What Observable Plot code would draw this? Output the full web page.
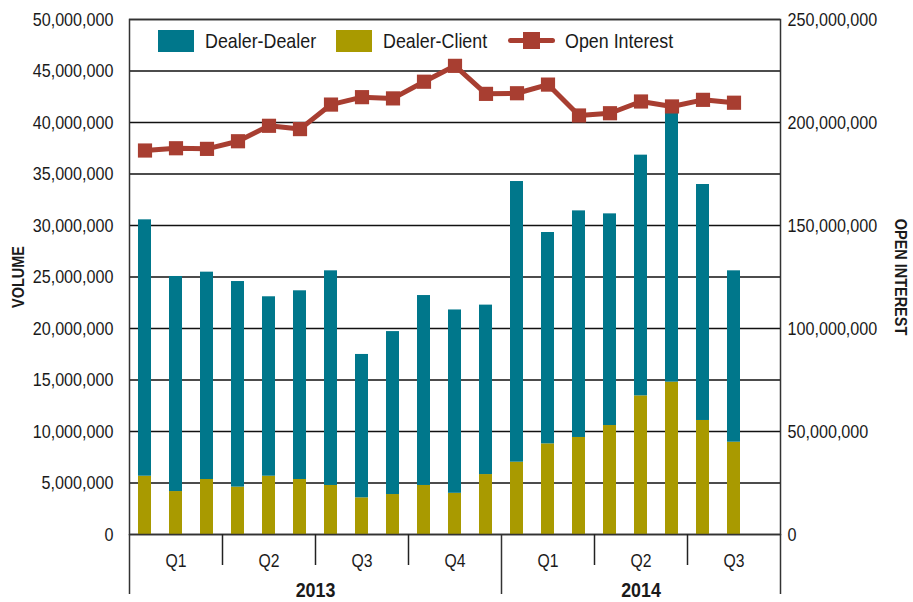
<!DOCTYPE html>
<html><head><meta charset="utf-8">
<script src="https://cdn.jsdelivr.net/npm/d3@7"></script>
<script src="https://cdn.jsdelivr.net/npm/@observablehq/plot@0.6"></script>
<style>
body{margin:0;background:#fff;}
#wrap{position:relative;width:913px;height:602px;font-family:"Liberation Sans",Arial,sans-serif;color:#1a1a1a;}
.sw{position:absolute;top:30px;width:36px;height:22px;}
.lt{position:absolute;top:28px;font-size:21px;line-height:26px;white-space:nowrap;transform:scaleX(0.85);transform-origin:0 50%;}
.ln{position:absolute;top:38px;width:47px;height:5px;border-radius:3px;}
.ln .sq{position:absolute;left:15px;top:-6px;width:17px;height:17px;}
</style></head>
<body><div id="wrap"></div>
<script>
const months = ["2013-01","2013-02","2013-03","2013-04","2013-05","2013-06","2013-07","2013-08","2013-09","2013-10","2013-11","2013-12","2014-01","2014-02","2014-03","2014-04","2014-05","2014-06","2014-07","2014-08"];
const dealerClient = [5660000,4170000,5340000,4600000,5660000,5340000,4760000,3560000,3880000,4760000,4000000,5820000,7020000,8800000,9420000,10580000,13460000,14790000,11070000,8960000];
const dealerDealer = [24890000,20880000,20130000,19960000,17420000,18320000,20840000,13920000,15820000,18440000,17800000,16450000,27250000,20520000,22000000,20550000,23370000,26210000,22910000,16640000];
const openInterest = [186400000,187500000,187200000,190900000,198400000,196800000,208700000,212300000,211700000,219800000,227500000,213900000,214200000,218400000,203400000,204500000,210200000,207800000,211000000,209600000];
const volumeTicks = [0,5000000,10000000,15000000,20000000,25000000,30000000,35000000,40000000,45000000,50000000];
const oiTicks = [0,50000000,100000000,150000000,200000000,250000000];
const volumeMax = 50000000, oiMax = 250000000;
const quarterLabels = ["Q1","Q2","Q3","Q4","Q1","Q2","Q3"];
const quarterMonths = [3,3,3,3,3,3,3]; // slots per quarter (last quarter incomplete)
const yearLabels = ["2013","2014"];
const yearQuarters = [4,3];
const seriesNames = ["Dealer-Dealer","Dealer-Client","Open Interest"];
const colors = ["#00778B","#A99A00","#A83E31"];

const ratio = oiMax / volumeMax;
const nSlots = d3.sum(quarterMonths);
const qStart = [0]; quarterMonths.forEach((m,i)=>qStart.push(qStart[i]+m));
const qCenters = quarterMonths.map((m,i)=>qStart[i]+m/2);
const yStart = [0]; yearQuarters.forEach((q,i)=>yStart.push(yStart[i]+q));
const yBounds = yStart.map(q=>qStart[q]);
const yCenters = yearLabels.map((y,i)=>(yBounds[i]+yBounds[i+1])/2);
const qInner = qStart.filter(b=>!yBounds.includes(b));
const qMap = new Map(qCenters.map((c,i)=>[c,quarterLabels[i]]));
const yMap = new Map(yCenters.map((c,i)=>[c,yearLabels[i]]));

const rows = months.flatMap((m,i)=>[
  {i, series:"Dealer-Client", value:dealerClient[i]},
  {i, series:"Dealer-Dealer", value:dealerDealer[i]}
]);
const oiRows = months.map((m,i)=>({x:i+0.5, y:openInterest[i]/ratio}));
const fmt = d3.format(",");

const chart = Plot.plot({
  width:913, height:602,
  marginLeft:129, marginRight:133, marginTop:19, marginBottom:68,
  style:{fontFamily:'"Liberation Sans",Arial,sans-serif', fontSize:"19px", color:"#1a1a1a", background:"#fff"},
  x:{domain:[0,nSlots]},
  y:{domain:[0,volumeMax]},
  color:{domain:seriesNames.slice(0,2), range:colors.slice(0,2)},
  marks:[
    Plot.gridY(volumeTicks,{stroke:"#111", strokeOpacity:1, strokeWidth:1.3}),
    Plot.rectY(rows,{x:"i", interval:1, y:"value", fill:"series", order:["Dealer-Client","Dealer-Dealer"], insetLeft:9, insetRight:9}),
    Plot.frame({stroke:"#333", strokeWidth:1.5}),
    Plot.axisY(volumeTicks,{anchor:"left", tickSize:0, tickPadding:16, tickFormat:fmt, fontSize:19, label:null}),
    Plot.axisY(oiTicks.map(d=>d/ratio),{anchor:"right", tickSize:0, tickPadding:7, tickFormat:d=>fmt(d*ratio), fontSize:19, label:null}),
    Plot.axisX(qInner,{anchor:"bottom", tickSize:31, tickFormat:()=>"", stroke:"#222", strokeWidth:1.5, label:null}),
    Plot.axisX(yBounds,{anchor:"bottom", tickSize:60, tickFormat:()=>"", stroke:"#333", strokeWidth:1.5, label:null}),
    Plot.axisX(qCenters,{anchor:"bottom", tickSize:0, tickPadding:19, tickFormat:d=>qMap.get(d), fontSize:18.5, label:null}),
    Plot.axisX(yCenters,{anchor:"bottom", tickSize:0, tickPadding:48, tickFormat:d=>yMap.get(d), fontSize:21, fontWeight:"bold", label:null}),
    Plot.line(oiRows,{x:"x", y:"y", stroke:colors[2], strokeWidth:5}),
    Plot.dot(oiRows,{x:"x", y:"y", symbol:"square", r:8, fill:colors[2]}),
    Plot.text(["VOLUME"],{frameAnchor:"left", dx:-111, rotate:-90, textAnchor:"middle", fontWeight:"bold", fontSize:17}),
    Plot.text(["OPEN INTEREST"],{frameAnchor:"right", dx:120, rotate:90, textAnchor:"middle", fontWeight:"bold", fontSize:17})
  ]
});
const wrap = document.getElementById("wrap");
wrap.appendChild(chart);
// condense all svg text (the original uses a condensed sans)
chart.querySelectorAll("text").forEach(t=>{
  const w = t.getComputedTextLength();
  if (w > 0) { t.setAttribute("textLength", (w*0.85).toFixed(1)); t.setAttribute("lengthAdjust","spacingAndGlyphs"); }
});
const swatchLeft = [158,336,508];
const textLeft = [205,383,565];
seriesNames.forEach((name,k)=>{
  const g = document.createElement("div");
  if(k<2){ g.className="sw"; g.style.background=colors[k]; }
  else { g.className="ln"; g.style.background=colors[k]; g.innerHTML=`<div class="sq" style="background:${colors[k]}"></div>`; }
  g.style.left=swatchLeft[k]+"px";
  wrap.appendChild(g);
  const t = document.createElement("div");
  t.className="lt"; t.style.left=textLeft[k]+"px"; t.textContent=name;
  wrap.appendChild(t);
});
</script></body></html>
